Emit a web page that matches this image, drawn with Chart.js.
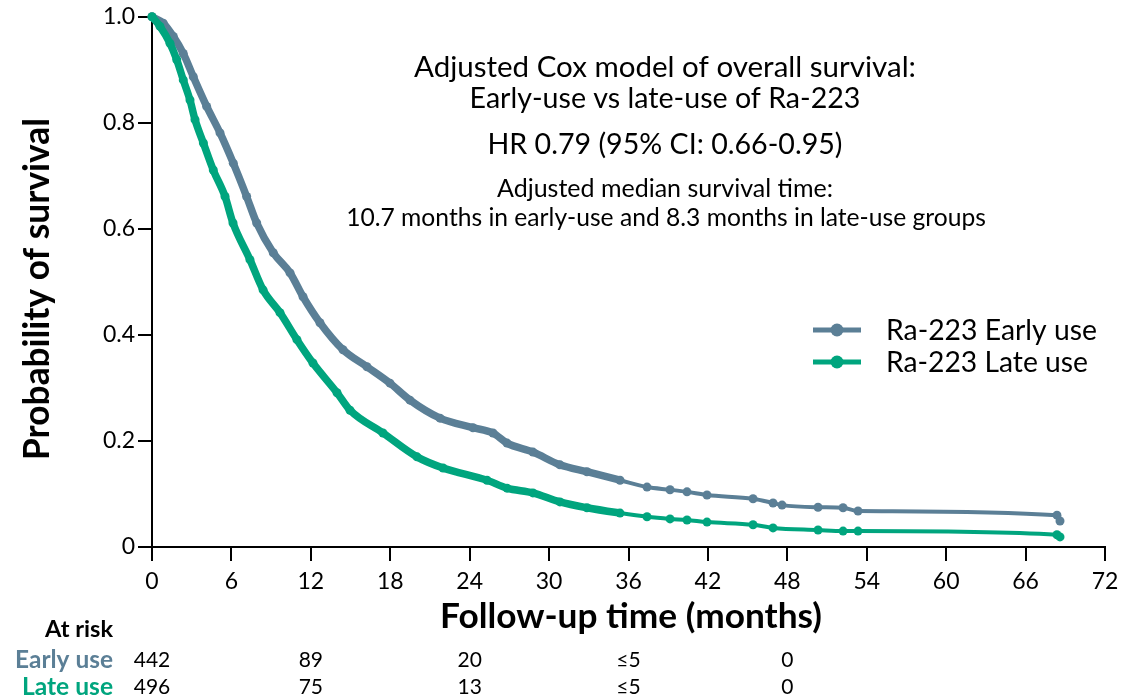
<!DOCTYPE html>
<html><head><meta charset="utf-8">
<script src="https://cdn.jsdelivr.net/npm/chart.js@4/dist/chart.umd.min.js"></script>
<style>html,body{margin:0;padding:0;background:#fff}#wrap{width:1137px;height:697px;position:relative}</style>
</head><body><div id="wrap"><canvas id="c" width="1137" height="697"></canvas></div>
<script>
const xTicks = [0, 6, 12, 18, 24, 30, 36, 42, 48, 54, 60, 66, 72];
const yTicks = [0, 0.2, 0.4, 0.6, 0.8, 1.0];

const earlyTime = [0, 0.85, 1.61, 2.36, 3.12, 4.13, 5.14, 6.14, 7.15, 7.91, 9.16, 10.43, 11.41, 12.69, 14.43, 16.24, 17.98, 19.49, 21.76, 24.25, 25.76, 26.82, 28.78, 30.82, 32.86, 35.36, 37.40, 39.14, 40.42, 41.93, 45.41, 46.92, 47.60, 50.32, 52.21, 53.34, 68.37, 68.6];
const earlyProb = [1.0, 0.988, 0.963, 0.931, 0.887, 0.831, 0.781, 0.724, 0.661, 0.611, 0.555, 0.517, 0.472, 0.423, 0.372, 0.340, 0.309, 0.277, 0.243, 0.225, 0.215, 0.196, 0.179, 0.155, 0.142, 0.126, 0.113, 0.108, 0.104, 0.098, 0.091, 0.083, 0.079, 0.075, 0.074, 0.068, 0.060, 0.049];

const lateTime = [0, 0.6, 1.36, 1.87, 2.36, 2.87, 3.25, 3.88, 4.63, 5.52, 6.12, 7.40, 8.39, 9.67, 10.95, 12.16, 13.98, 14.96, 17.45, 20.02, 21.99, 25.31, 26.82, 28.78, 30.82, 32.86, 35.36, 37.40, 39.14, 40.42, 41.93, 45.41, 46.92, 50.32, 52.21, 53.34, 68.37, 68.6];
const lateProb = [1.0, 0.982, 0.950, 0.919, 0.881, 0.843, 0.806, 0.762, 0.711, 0.661, 0.611, 0.542, 0.485, 0.442, 0.391, 0.347, 0.291, 0.258, 0.215, 0.170, 0.149, 0.126, 0.111, 0.102, 0.085, 0.074, 0.064, 0.057, 0.053, 0.051, 0.047, 0.042, 0.036, 0.032, 0.030, 0.030, 0.023, 0.019];

const seriesNames = ['Ra-223 Early use', 'Ra-223 Late use'];
const atRiskTimes = [0, 12, 24, 36, 48];
const atRiskEarly = ['442', '89', '20', '≤5', '0'];
const atRiskLate = ['496', '75', '13', '≤5', '0'];

const EARLY = '#5b7f96';
const LATE = '#00a57e';
const FAM = 'Lato, "Open Sans", sans-serif';

function pts(t, p) { return t.map((v, i) => ({ x: v, y: p[i] })); }

function fitText(ctx, text, weight, targetW) {
  ctx.font = weight + ' 20px ' + FAM;
  const w = ctx.measureText(text).width;
  const size = 20 * targetW / w;
  ctx.font = weight + ' ' + size.toFixed(2) + 'px ' + FAM;
}

const textPlugin = {
  id: 'texts',
  afterDraw(chart) {
    const ctx = chart.ctx;
    const xs = chart.scales.x;
    ctx.save();
    ctx.fillStyle = '#000';
    ctx.textBaseline = 'middle';
    ctx.textAlign = 'center';
    const lines = [
      ['Adjusted Cox model of overall survival:', 665, 67, 502],
      ['Early-use vs late-use of Ra-223', 665, 99, 391],
      ['HR 0.79 (95% CI: 0.66-0.95)', 665, 145, 355],
      ['Adjusted median survival time:', 665, 189, 336],
      ['10.7 months in early-use and 8.3 months in late-use groups', 666, 218, 640]
    ];
    lines.forEach(l => { fitText(ctx, l[0], 'normal', l[3]); ctx.fillText(l[0], l[1], l[2]); });

    // axis titles
    fitText(ctx, 'Follow-up time (months)', 'bold', 382);
    ctx.fillText('Follow-up time (months)', 631, 617);
    ctx.save();
    ctx.translate(38, 289);
    ctx.rotate(-Math.PI / 2);
    fitText(ctx, 'Probability of survival', 'bold', 342);
    ctx.fillText('Probability of survival', 0, 0);
    ctx.restore();

    // legend
    const leg = [[seriesNames[0], EARLY, 330, 211], [seriesNames[1], LATE, 362, 202]];
    leg.forEach(l => {
      ctx.strokeStyle = l[1]; ctx.lineWidth = 5; ctx.lineCap = 'butt';
      ctx.beginPath(); ctx.moveTo(813, l[2]); ctx.lineTo(861, l[2]); ctx.stroke();
      ctx.fillStyle = l[1];
      ctx.beginPath(); ctx.arc(837, l[2], 6.5, 0, Math.PI * 2); ctx.fill();
      ctx.fillStyle = '#000'; ctx.textAlign = 'left';
      fitText(ctx, l[0], 'normal', l[3]);
      ctx.fillText(l[0], 886, l[2] + 1);
    });

    // at risk table
    ctx.textAlign = 'right';
    ctx.fillStyle = '#000';
    fitText(ctx, 'At risk', 'bold', 68); ctx.fillText('At risk', 113, 629);
    ctx.fillStyle = EARLY;
    fitText(ctx, 'Early use', 'bold', 98); ctx.fillText('Early use', 113, 660);
    ctx.fillStyle = LATE;
    fitText(ctx, 'Late use', 'bold', 91); ctx.fillText('Late use', 113, 687);
    ctx.fillStyle = '#000';
    ctx.textAlign = 'center';
    ctx.font = 'normal 21px ' + FAM;
    atRiskTimes.forEach((t, i) => {
      const px = xs.getPixelForValue(t);
      ctx.fillText(atRiskEarly[i], px, 660);
      ctx.fillText(atRiskLate[i], px, 687);
    });
    ctx.restore();
  }
};

function segW(ctx) { return ctx.p0.parsed.x < 33 ? 7.5 : 4; }

new Chart(document.getElementById('c'), {
  type: 'line',
  data: {
    datasets: [
      { label: seriesNames[1], data: pts(lateTime, lateProb), borderColor: LATE, backgroundColor: LATE,
        pointBackgroundColor: LATE, pointBorderWidth: 0, pointRadius: 4.5, borderWidth: 4,
        cubicInterpolationMode: 'monotone',
        segment: { borderWidth: segW }, clip: false, order: 0 },
      { label: seriesNames[0], data: pts(earlyTime, earlyProb), borderColor: EARLY, backgroundColor: EARLY,
        pointBackgroundColor: EARLY, pointBorderWidth: 0, pointRadius: 4.5, borderWidth: 4,
        cubicInterpolationMode: 'monotone',
        segment: { borderWidth: segW }, clip: false, order: 1 }
    ]
  },
  options: {
    responsive: false,
    devicePixelRatio: 1,
    animation: false,
    layout: { padding: { left: 0, top: 11, right: 32, bottom: 0 } },
    plugins: { legend: { display: false }, tooltip: { enabled: false } },
    scales: {
      x: {
        type: 'linear', min: 0, max: 72,
        afterBuildTicks: s => { s.ticks = xTicks.map(v => ({ value: v })); },
        afterFit: s => { s.height = 150; },
        ticks: { font: { family: FAM, size: 23 }, color: '#000', padding: 7, maxRotation: 0, autoSkip: false },
        grid: { drawOnChartArea: false, drawTicks: true, tickLength: 14, color: '#000', lineWidth: 2 },
        border: { color: '#000', width: 2 }
      },
      y: {
        type: 'linear', min: 0, max: 1,
        afterBuildTicks: s => { s.ticks = yTicks.map(v => ({ value: v })); },
        afterFit: s => { s.width = 152; },
        ticks: { font: { family: FAM, size: 23 }, color: '#000', padding: 3,
          callback: v => v === 0 ? '0' : v.toFixed(1) },
        grid: { drawOnChartArea: false, drawTicks: true, tickLength: 14, color: '#000', lineWidth: 2 },
        border: { color: '#000', width: 2 }
      }
    }
  },
  plugins: [textPlugin]
});
</script>
</body></html>
